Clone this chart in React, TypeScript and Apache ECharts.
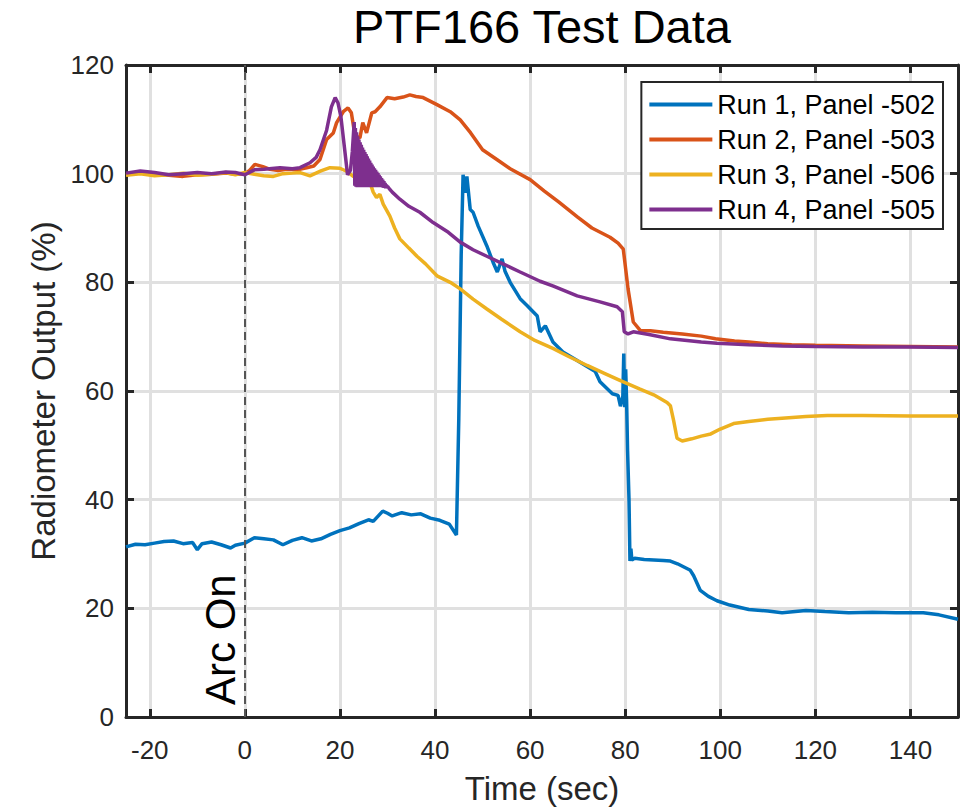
import React, { useEffect, useRef } from 'react';
import * as echarts from 'echarts';

const titleText = 'PTF166 Test Data';
const xName = 'Time (sec)';
const yName = 'Radiometer Output (%)';
const xTicks = [-20, 0, 20, 40, 60, 80, 100, 120, 140];
const seriesNames = ['Run 1, Panel -502', 'Run 2, Panel -503', 'Run 3, Panel -506', 'Run 4, Panel -505'];
const seriesColors = ['#0072BD', '#D95319', '#EDB120', '#7E2F8E'];

const run1Time = [-25, -23, -21, -19, -17, -15, -13, -11, -10, -9, -7, -5, -3, -2, 0, 2, 4, 6, 8, 10, 12, 14, 16, 18, 20, 22, 24, 26, 27, 29, 30, 31, 33, 35, 37, 39, 41, 43, 44.5, 45.0, 45.5, 45.9, 46.3, 46.7, 47.4, 48, 49.1, 50.9, 52.2, 53.1, 54.1, 54.7, 55.8, 57.9, 59.4, 61.5, 62.1, 63.2, 64.8, 66.9, 69.9, 73.7, 74.7, 77.3, 78.5, 79.0, 79.5, 79.7, 79.9, 80.1, 80.3, 80.5, 80.8, 81.0, 81.2, 81.4, 82, 84, 86, 88, 89.5, 91, 93.7, 94.4, 95.8, 97.5, 99.3, 102, 106, 110, 113, 118, 122, 127, 132, 137, 142.7, 146, 150];
const run1Value = [31.3, 31.8, 31.7, 32.0, 32.3, 32.4, 31.9, 32.1, 30.8, 31.9, 32.2, 31.7, 31.1, 31.6, 32.0, 33.0, 32.8, 32.6, 31.7, 32.5, 33.0, 32.4, 32.8, 33.6, 34.3, 34.8, 35.6, 36.3, 36.0, 37.9, 37.5, 37.0, 37.6, 37.2, 37.4, 36.6, 36.2, 35.5, 33.5, 55.0, 85.0, 99.8, 96.5, 99.5, 93.4, 92.9, 90.3, 86.7, 83.7, 81.9, 84.3, 82.1, 80.0, 77.0, 75.7, 73.8, 70.9, 72.0, 69.0, 67.2, 65.6, 63.6, 61.7, 59.5, 59.2, 57.2, 59.0, 66.9, 57.0, 64.0, 58.0, 49.0, 40.0, 28.7, 31.0, 28.9, 29.2, 29.0, 28.9, 28.8, 28.7, 28.2, 27.0, 26.0, 23.3, 22.2, 21.4, 20.6, 19.8, 19.5, 19.2, 19.6, 19.4, 19.2, 19.3, 19.2, 19.2, 18.8, 18.0];

const run2Time = [-25, -22, -19, -16, -13, -10, -7, -4, -2, 0, 1, 2.1, 3.8, 5.3, 7, 8.8, 11, 13, 14.5, 15.8, 17.2, 18.6, 19.3, 20.7, 21.7, 22.4, 23.2, 24.2, 24.8, 25.6, 26.7, 27.4, 28.4, 29.9, 31.5, 33.3, 34.7, 36, 37.5, 40.4, 43.2, 45.3, 47.5, 50, 53, 56, 60, 63, 66, 70, 73, 76.8, 78.5, 79.6, 80.6, 81.7, 83.2, 85.3, 88, 92, 96, 99, 103, 106, 110, 115, 120, 130, 140, 150];
const run2Value = [99.8, 100.1, 99.9, 99.7, 99.5, 99.8, 99.9, 100.1, 99.9, 100.0, 100.6, 101.7, 101.3, 100.8, 100.6, 100.8, 100.7, 101.1, 101.4, 102.6, 106.3, 107.5, 109.4, 111.4, 112.1, 111.2, 106.8, 106.6, 109.4, 107.5, 111.2, 111.4, 112.3, 114.0, 113.8, 114.1, 114.5, 114.2, 114.0, 112.7, 111.4, 109.9, 107.5, 104.4, 102.6, 100.8, 98.9, 96.8, 94.8, 92.0, 90.0, 88.3, 87.2, 86.1, 78.8, 72.7, 71.1, 71.1, 70.8, 70.5, 70.1, 69.6, 69.2, 69.0, 68.7, 68.5, 68.4, 68.3, 68.2, 68.1];

const run3Time = [-25, -22, -19, -16, -13, -10, -7, -4, -2, 0, 2, 4, 6, 8, 10, 11.6, 13.7, 16, 17.9, 20, 21.5, 22.8, 24.5, 26.3, 27, 27.7, 28.4, 29.1, 30.5, 31.5, 32.6, 34.5, 36.2, 38, 40.4, 43.2, 45.3, 48, 50.9, 54, 57.9, 61, 64.9, 68, 72, 75.5, 79, 83, 86, 88.8, 89.5, 90.2, 90.9, 92, 94, 96, 98, 100, 102.8, 106, 110, 113, 118, 122.5, 130, 140, 150];
const run3Value = [99.7, 100.0, 99.6, 99.8, 100.1, 99.7, 99.9, 100.2, 99.8, 100.2, 99.9, 99.6, 99.5, 100.0, 100.1, 100.2, 99.6, 100.5, 101.1, 101.0, 100.4, 99.5, 98.9, 98.4, 96.6, 95.6, 96.2, 94.4, 92.2, 90.0, 88.0, 86.3, 84.8, 83.4, 81.2, 80.0, 78.8, 76.9, 75.1, 73.2, 70.9, 69.3, 67.8, 66.4, 64.7, 63.3, 61.9, 60.4, 59.3, 57.9, 57.3, 54.5, 51.3, 50.8, 51.2, 51.7, 52.1, 53.0, 54.0, 54.4, 54.8, 55.0, 55.3, 55.5, 55.5, 55.4, 55.4];

const run4Time = [-25, -22, -19, -16, -13, -10, -7, -4, -2, 0, 2, 4, 7.4, 10, 11.6, 13.7, 15, 15.8, 17.2, 18.2, 19, 19.6, 20.2, 21, 21.6, 22.2, 22.6,
  23.0, 23.125, 23.25, 23.375, 23.5, 23.625, 23.75, 23.875, 24.0, 24.125, 24.25, 24.375, 24.5, 24.625, 24.75, 24.875,
  25.0, 25.125, 25.25, 25.375, 25.5, 25.625, 25.75, 25.875, 26.0, 26.125, 26.25, 26.375, 26.5, 26.625, 26.75, 26.875,
  27.0, 27.125, 27.25, 27.375, 27.5, 27.625, 27.75, 27.875, 28.0, 28.125, 28.25, 28.375, 28.5, 28.625, 28.75, 28.875,
  29.0, 29.125, 29.25, 29.375, 29.5, 29.625, 29.75, 29.875, 30.0, 30.5,
  31, 32.6, 34.5, 36.8, 39.6, 42.8, 45.3, 48, 50.9, 54.3, 57.9, 62.1, 64.9, 69.9, 74.7, 78.3, 79.4, 79.8, 80.6, 81.7, 85, 89.5, 92, 96, 99.3, 106, 113, 120, 130, 140, 150];
const run4Value = [100.1, 100.5, 100.2, 99.8, 100.0, 100.2, 100.0, 100.3, 100.2, 99.8, 100.7, 100.8, 101.1, 100.9, 101.1, 102.0, 103.0, 104.4, 108.0, 112.3, 114.0, 113.0, 110.5, 104.4, 99.8, 100.6, 104.0,
  109.5, 97.8, 108.4, 97.6, 107.6, 97.5, 106.9, 97.6, 106.3, 97.5, 105.8, 97.6, 105.3, 97.5, 104.8, 97.6,
  104.4, 97.5, 104.0, 97.6, 103.6, 97.5, 103.2, 97.6, 102.8, 97.5, 102.4, 97.6, 102.0, 97.5, 101.7, 97.6,
  101.3, 97.5, 101.0, 97.6, 100.7, 97.5, 100.4, 97.6, 100.1, 97.5, 99.8, 97.6, 99.5, 97.5, 99.2, 97.5,
  98.9, 97.4, 98.6, 97.4, 98.3, 97.3, 98.0, 97.3, 97.7, 97.1,
  96.6, 95.3, 94.0, 92.9, 91.0, 89.2, 87.4, 86.0, 84.8, 83.4, 81.9, 80.2, 79.3, 77.5, 76.4, 75.5, 74.6, 70.9, 70.5, 70.9, 70.4, 69.6, 69.4, 69.0, 68.8, 68.5, 68.3, 68.2, 68.1, 68.1, 68.0];

const FONT = '"Liberation Sans", Arial, Helvetica, sans-serif';
const AXIS = '#262626';
const GRIDC = '#e0e0e0';

export default function App() {
  const ref = useRef<HTMLDivElement>(null);
  useEffect(() => {
    const chart = echarts.init(ref.current as HTMLDivElement, null, { renderer: 'svg' });
    const zip = (t: number[], v: number[]) => t.map((x, i) => [x, v[i]]);
    const times = [run1Time, run2Time, run3Time, run4Time];
    const values = [run1Value, run2Value, run3Value, run4Value];
    const series: any[] = seriesNames.map((name, i) => ({
      name,
      type: 'line',
      data: zip(times[i], values[i]),
      symbol: 'none',
      showSymbol: false,
      lineStyle: { width: 3.5, color: seriesColors[i] },
      itemStyle: { color: seriesColors[i] },
      emphasis: { disabled: true },
      z: 3 + i,
    }));
    series[0].markLine = {
      silent: true,
      symbol: ['none', 'none'],
      lineStyle: { type: [8, 5], color: '#555555', width: 2 },
      label: {
        show: true,
        formatter: 'Arc On',
        position: 'insideStartTop',
        fontSize: 42,
        fontFamily: FONT,
        color: '#000',
        distance: 3,
        padding: [0, 0, 0, 9],
      },
      data: [{ xAxis: 0 }],
    };
    chart.setOption({
      animation: false,
      backgroundColor: '#fff',
      title: {
        text: titleText,
        left: 537,
        textAlign: 'center',
        top: -2,
        textStyle: { fontSize: 47, fontWeight: 'normal', color: '#000', fontFamily: FONT },
      },
      grid: { left: 126, right: 11, top: 65, bottom: 90, containLabel: false },
      legend: {
        data: seriesNames,
        orient: 'vertical',
        right: 26,
        top: 82,
        icon: 'rect',
        itemWidth: 63,
        itemHeight: 4,
        itemGap: 8,
        padding: [9, 8, 6, 8],
        borderColor: AXIS,
        borderWidth: 2,
        backgroundColor: '#fff',
        selectedMode: false,
        textStyle: { fontSize: 27, color: '#000', fontFamily: FONT },
      },
      xAxis: [
        {
          type: 'value',
          min: -25,
          max: 150,
          name: xName,
          nameLocation: 'middle',
          nameGap: 55,
          nameTextStyle: { fontSize: 33, color: AXIS, fontFamily: FONT },
          axisLine: { show: true, onZero: false, lineStyle: { color: AXIS, width: 3 } },
          axisTick: { show: true, inside: true, length: 8, customValues: xTicks, lineStyle: { color: AXIS, width: 3 } },
          axisLabel: { customValues: xTicks, fontSize: 26, color: AXIS, fontFamily: FONT, margin: 20 },
          splitLine: { show: true, lineStyle: { color: GRIDC, width: 3 } },
        },
        {
          type: 'value',
          position: 'top',
          min: -25,
          max: 150,
          axisLine: { show: true, onZero: false, lineStyle: { color: AXIS, width: 3 } },
          axisTick: { show: true, inside: true, length: 8, customValues: xTicks, lineStyle: { color: AXIS, width: 3 } },
          axisLabel: { show: false },
          splitLine: { show: false },
        },
      ],
      yAxis: [
        {
          type: 'value',
          min: 0,
          max: 120,
          interval: 20,
          name: yName,
          nameLocation: 'middle',
          nameGap: 65,
          nameTextStyle: { fontSize: 33, color: AXIS, fontFamily: FONT },
          axisLine: { show: true, onZero: false, lineStyle: { color: AXIS, width: 3 } },
          axisTick: { show: true, inside: true, length: 8, lineStyle: { color: AXIS, width: 3 } },
          axisLabel: { fontSize: 26, color: AXIS, fontFamily: FONT, margin: 12 },
          splitLine: { show: true, lineStyle: { color: GRIDC, width: 3 } },
        },
        {
          type: 'value',
          position: 'right',
          min: 0,
          max: 120,
          interval: 20,
          axisLine: { show: true, onZero: false, lineStyle: { color: AXIS, width: 3 } },
          axisTick: { show: true, inside: true, length: 8, lineStyle: { color: AXIS, width: 3 } },
          axisLabel: { show: false },
          splitLine: { show: false },
        },
      ],
      series,
    });
    return () => chart.dispose();
  }, []);
  return (
    <div
      ref={ref}
      style={{ position: 'fixed', left: 0, top: 0, width: 969, height: 810, background: '#fff' }}
    />
  );
}
